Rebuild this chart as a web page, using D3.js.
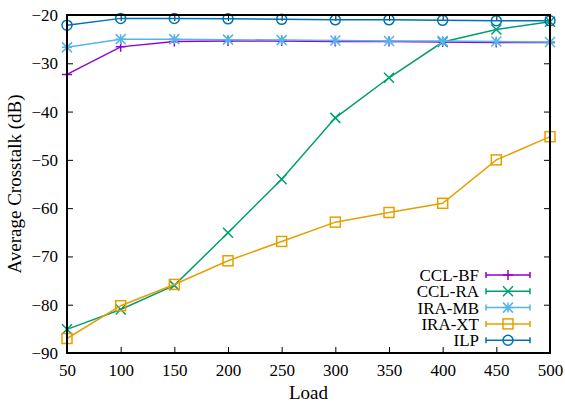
<!DOCTYPE html>
<html>
<head>
<meta charset="UTF-8">
<title>Average Crosstalk</title>
<style>
  body { margin: 0; background: #fff; }
  svg { display: block; font-family: "Liberation Serif", "DejaVu Serif", serif; }
  .tick text { font-size: 17px; fill: #000; font-family: "Liberation Serif", serif; }
</style>
</head>
<body>
<div id="chart"></div>
<script src="https://d3js.org/d3.v7.min.js"></script>
<script>
// load values on the x axis
const loads = [50, 100, 150, 200, 250, 300, 350, 400, 450, 500];

// average crosstalk (dB) per algorithm
const cclBF = [-32.3, -26.6, -25.5, -25.4, -25.4, -25.5, -25.5, -25.6, -25.7, -25.7];
const cclRA = [-85.1, -81.0, -76.0, -65.1, -54.0, -41.3, -33.0, -25.6, -23.0, -21.4];
const iraMB = [-26.7, -25.0, -25.0, -25.1, -25.2, -25.3, -25.4, -25.4, -25.5, -25.6];
const iraXT = [-87.0, -80.2, -75.8, -70.9, -66.9, -62.9, -60.9, -59.0, -50.0, -45.2];
const ilp   = [-22.1, -20.7, -20.7, -20.8, -20.9, -21.0, -21.0, -21.1, -21.2, -21.2];

const seriesNames = ["CCL-BF", "CCL-RA", "IRA-MB", "IRA-XT", "ILP"];
const seriesValues = [cclBF, cclRA, iraMB, iraXT, ilp];
const seriesColors = ["#9400d3", "#009e73", "#56b4e9", "#e69f00", "#0072b2"];
const seriesMarks = ["plus", "cross", "star", "square", "circle"];

const xTicks = [50, 100, 150, 200, 250, 300, 350, 400, 450, 500];
const yTicks = [-90, -80, -70, -60, -50, -40, -30, -20];

const width = 565, height = 405;
const margin = {top: 15, right: 15, bottom: 52, left: 67};
const iw = width - margin.left - margin.right;
const ih = height - margin.top - margin.bottom;

const svg = d3.select("#chart").append("svg")
    .attr("width", width)
    .attr("height", height);

const g = svg.append("g")
    .attr("transform", `translate(${margin.left},${margin.top})`);

const x = d3.scaleLinear().domain([50, 500]).range([0, iw]);
const y = d3.scaleLinear().domain([-90, -20]).range([ih, 0]);

// axes with inward ticks, mirrored on top/right
const tl = 6;
function clean(a) {
  a.attr("font-family", null).attr("font-size", null);
  a.select(".domain").remove();
}
g.append("g").attr("transform", `translate(0,${ih})`)
    .call(d3.axisBottom(x).tickValues(xTicks).tickSizeInner(-tl).tickSizeOuter(0).tickPadding(11))
    .call(clean);
g.append("g")
    .call(d3.axisLeft(y).tickValues(yTicks).tickSizeInner(-tl).tickSizeOuter(0).tickPadding(9))
    .call(clean);
g.append("g")
    .call(d3.axisTop(x).tickValues(xTicks).tickSizeInner(-tl).tickSizeOuter(0).tickFormat(""))
    .call(clean);
g.append("g").attr("transform", `translate(${iw},0)`)
    .call(d3.axisRight(y).tickValues(yTicks).tickSizeInner(-tl).tickSizeOuter(0).tickFormat(""))
    .call(clean);
g.selectAll(".tick line").attr("stroke", "#000").attr("stroke-width", 1);

// marker shapes
function marker(sel, type, color) {
  const s = 5;
  if (type === "plus") {
    sel.append("path").attr("d", `M${-s},0H${s}M0,${-s}V${s}`);
  } else if (type === "cross") {
    sel.append("path").attr("d", `M${-s},${-s}L${s},${s}M${-s},${s}L${s},${-s}`);
  } else if (type === "star") {
    sel.append("path").attr("d", `M${-s},0H${s}M0,${-s}V${s}M${-s},${-s}L${s},${s}M${-s},${s}L${s},${-s}`);
  } else if (type === "square") {
    sel.append("rect").attr("x", -s).attr("y", -s).attr("width", 2 * s).attr("height", 2 * s);
  } else {
    sel.append("circle").attr("r", s);
  }
  sel.selectAll("*").attr("fill", "none").attr("stroke", color).attr("stroke-width", 1.5);
}

const line = d3.line().x((d, i) => x(loads[i])).y(d => y(d));

seriesValues.forEach((vals, k) => {
  const col = seriesColors[k];
  g.append("path")
      .datum(vals)
      .attr("d", line)
      .attr("fill", "none")
      .attr("stroke", col)
      .attr("stroke-width", 1.5);
  vals.forEach((v, i) => {
    const m = g.append("g").attr("transform", `translate(${x(loads[i])},${y(v)})`);
    marker(m, seriesMarks[k], col);
  });
});

// border
g.append("rect")
    .attr("width", iw).attr("height", ih)
    .attr("fill", "none").attr("stroke", "#000").attr("stroke-width", 2);

// legend
const legend = svg.append("g").attr("transform", "translate(0,275)");
seriesNames.forEach((name, k) => {
  const row = legend.append("g").attr("transform", `translate(0,${k * 16.3})`);
  row.append("text")
      .attr("x", 479).attr("y", 0).attr("dy", "0.35em")
      .attr("text-anchor", "end")
      .style("font-size", "17px")
      .text(name);
  row.append("path")
      .attr("d", "M486,0H530M486,-3V3M530,-3V3")
      .attr("fill", "none").attr("stroke", seriesColors[k]).attr("stroke-width", 1.5);
  const m = row.append("g").attr("transform", "translate(508,0)");
  marker(m, seriesMarks[k], seriesColors[k]);
});

// axis titles
svg.append("text")
    .attr("x", margin.left + iw / 2).attr("y", 399)
    .attr("text-anchor", "middle")
    .style("font-size", "19px")
    .text("Load");
svg.append("text")
    .attr("transform", `translate(21,${margin.top + ih / 2}) rotate(-90)`)
    .attr("text-anchor", "middle")
    .style("font-size", "19px")
    .text("Average Crosstalk (dB)");
</script>
</body>
</html>
